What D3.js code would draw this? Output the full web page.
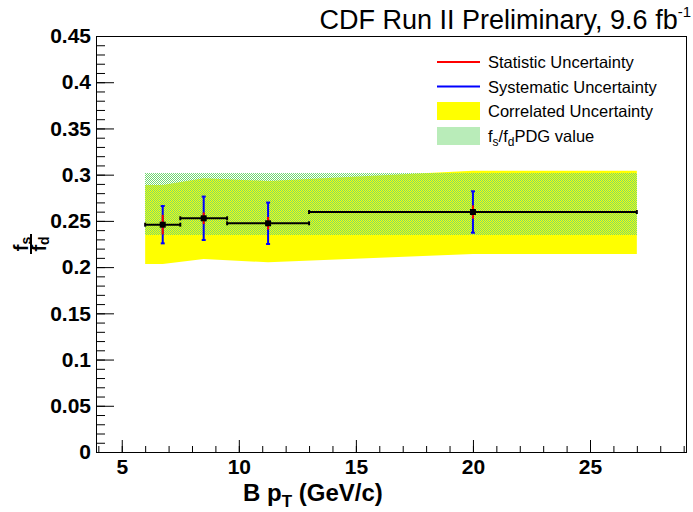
<!DOCTYPE html>
<html>
<head>
<meta charset="utf-8">
<script src="https://cdn.jsdelivr.net/npm/d3@7"></script>
<style>
  body { margin: 0; background: #fff; }
  text { font-family: 'Liberation Sans', Arial, sans-serif; }
</style>
</head>
<body>
<div class="chart"></div>
<script>
// pT bins
const binLow = [6, 7.5, 9.5, 13]
const binHigh = [7.5, 9.5, 13, 27]
const binCenter = [6.75, 8.5, 11.25, 20]
// fs/fd measurement
const fsfd = [0.2459, 0.2528, 0.2474, 0.2596]
const statErr = [0.0106, 0.0063, 0.0068, 0.0072]
const systErr = [0.0202, 0.0235, 0.0224, 0.0224]
// correlated uncertainty band
const corrX = [6, 6.75, 8.5, 11.25, 20, 27]
const corrLow = [0.2034, 0.2034, 0.2088, 0.2052, 0.2142, 0.2142]
const corrHigh = [0.2888, 0.2888, 0.2961, 0.2932, 0.3043, 0.3043]
// PDG value
const pdgX = [6, 27]
const pdgValue = 0.2683
const pdgErr = 0.0332
// axes
const xRange = [3.9, 29.1]
const yRange = [0, 0.45]
const xTicks = [5, 10, 15, 20, 25]
const xMinorTicks = d3.range(4, 30, 1)
const yTicks = [0, 0.05, 0.1, 0.15, 0.2, 0.25, 0.3, 0.35, 0.4, 0.45]
const yTickLabels = ['0', '0.05', '0.1', '0.15', '0.2', '0.25', '0.3', '0.35', '0.4', '0.45']
const yMinorTicks = d3.range(0, 0.4501, 0.01)

function drawChart (container) {
  const fullWidth = 693
  const fullHeight = 512
  const margin = { top: 36, right: 7, bottom: 60, left: 96 }
  const width = fullWidth - margin.left - margin.right
  const height = fullHeight - margin.top - margin.bottom

  const x = d3.scaleLinear().domain(xRange).range([0, width])
  const y = d3.scaleLinear().domain(yRange).range([height, 0])

  const svg = d3.select(container)
    .append('svg')
      .attr('width', fullWidth)
      .attr('height', fullHeight)

  const defs = svg.append('defs')
  const pat = defs.append('pattern')
    .attr('id', 'pdgHatch')
    .attr('width', 2).attr('height', 2)
    .attr('patternUnits', 'userSpaceOnUse')
  pat.append('rect').attr('x', 0).attr('y', 0).attr('width', 1).attr('height', 1).attr('fill', '#72d872')
  pat.append('rect').attr('x', 1).attr('y', 1).attr('width', 1).attr('height', 1).attr('fill', '#72d872')

  const g = svg.append('g')
    .attr('transform', `translate(${margin.left}, ${margin.top})`)

  // correlated band
  const corr = corrX.map((v, i) => ({ x: v, lo: corrLow[i], hi: corrHigh[i] }))
  g.append('path')
    .datum(corr)
    .attr('fill', '#ffff00')
    .attr('d', d3.area().x(d => x(d.x)).y0(d => y(d.lo)).y1(d => y(d.hi)))

  // pdg band
  g.append('rect')
    .attr('x', x(pdgX[0]))
    .attr('width', x(pdgX[1]) - x(pdgX[0]))
    .attr('y', y(pdgValue + pdgErr))
    .attr('height', y(pdgValue - pdgErr) - y(pdgValue + pdgErr))
    .attr('fill', 'url(#pdgHatch)')
    .attr('shape-rendering', 'crispEdges')

  const pts = fsfd.map((v, i) => ({
    lo: binLow[i], hi: binHigh[i], c: binCenter[i], v, stat: statErr[i], syst: systErr[i]
  }))

  // x error bars
  g.selectAll('.xbar').data(pts).enter().append('line')
    .attr('class', 'xbar')
    .attr('x1', d => x(d.lo)).attr('x2', d => x(d.hi))
    .attr('y1', d => y(d.v)).attr('y2', d => y(d.v))
    .attr('stroke', '#000').attr('stroke-width', 2)
  g.selectAll('.xcap').data(pts.flatMap(d => [{ x: d.lo, v: d.v }, { x: d.hi, v: d.v }])).enter().append('line')
    .attr('class', 'xcap')
    .attr('x1', d => x(d.x)).attr('x2', d => x(d.x))
    .attr('y1', d => y(d.v) - 2).attr('y2', d => y(d.v) + 2)
    .attr('stroke', '#000').attr('stroke-width', 2)

  // systematic
  g.selectAll('.syst').data(pts).enter().append('line')
    .attr('class', 'syst')
    .attr('x1', d => x(d.c)).attr('x2', d => x(d.c))
    .attr('y1', d => y(d.v - d.syst)).attr('y2', d => y(d.v + d.syst))
    .attr('stroke', '#0000ff').attr('stroke-width', 2)
  g.selectAll('.scap').data(pts.flatMap(d => [{ c: d.c, v: d.v - d.syst }, { c: d.c, v: d.v + d.syst }])).enter().append('line')
    .attr('class', 'scap')
    .attr('x1', d => x(d.c) - 2).attr('x2', d => x(d.c) + 2)
    .attr('y1', d => y(d.v)).attr('y2', d => y(d.v))
    .attr('stroke', '#0000ff').attr('stroke-width', 2)

  // statistic
  g.selectAll('.stat').data(pts).enter().append('line')
    .attr('class', 'stat')
    .attr('x1', d => x(d.c)).attr('x2', d => x(d.c))
    .attr('y1', d => y(d.v - d.stat)).attr('y2', d => y(d.v + d.stat))
    .attr('stroke', '#ff0000').attr('stroke-width', 2)

  // markers
  g.selectAll('.mk').data(pts).enter().append('rect')
    .attr('class', 'mk')
    .attr('x', d => x(d.c) - 3).attr('y', d => y(d.v) - 3)
    .attr('width', 6).attr('height', 6)
    .attr('fill', '#000')

  // axes
  const xMinor = g.append('g')
    .attr('transform', `translate(0, ${height})`)
    .call(d3.axisBottom(x).tickValues(xMinorTicks).tickSize(-6).tickSizeOuter(0).tickFormat(''))
  xMinor.select('.domain').remove()
  const xAxis = g.append('g')
    .attr('transform', `translate(0, ${height})`)
    .call(d3.axisBottom(x).tickValues(xTicks).tickSize(-12).tickSizeOuter(0).tickPadding(7).tickFormat(d3.format('d')))
  xAxis.selectAll('text')
    .attr('font-size', 21).attr('font-weight', 'bold').attr('fill', '#000')
    .attr('font-family', 'Liberation Sans, Arial, sans-serif')

  const yMinor = g.append('g')
    .call(d3.axisLeft(y).tickValues(yMinorTicks).tickSize(-9).tickSizeOuter(0).tickFormat(''))
  yMinor.select('.domain').remove()
  const yAxis = g.append('g')
    .call(d3.axisLeft(y).tickValues(yTicks).tickSize(-18).tickSizeOuter(0).tickPadding(5)
      .tickFormat((d, i) => yTickLabels[i]))
  yAxis.selectAll('text')
    .attr('font-size', 21).attr('font-weight', 'bold').attr('fill', '#000')
    .attr('font-family', 'Liberation Sans, Arial, sans-serif')

  // frame
  g.append('rect')
    .attr('width', width).attr('height', height)
    .attr('fill', 'none').attr('stroke', '#000').attr('stroke-width', 1)
    .attr('shape-rendering', 'crispEdges')

  // x title
  const xt = svg.append('text')
    .attr('x', 243).attr('y', 501)
    .attr('font-size', 24).attr('font-weight', 'bold')
  xt.append('tspan').text('B p')
  xt.append('tspan').attr('font-size', 17).attr('dy', 6).text('T')
  xt.append('tspan').attr('dy', -6).text(' (GeV/c)')

  // y title as fraction
  const yt = svg.append('g')
    .attr('transform', 'translate(31, 244) rotate(-90)')
    .attr('font-weight', 'bold')
  const num = yt.append('text').attr('text-anchor', 'middle').attr('y', -3).attr('font-size', 20)
  num.append('tspan').text('f')
  num.append('tspan').attr('font-size', 14).attr('dy', 3).text('s')
  yt.append('line').attr('x1', -10).attr('x2', 10).attr('y1', 0).attr('y2', 0)
    .attr('stroke', '#000').attr('stroke-width', 2)
  const den = yt.append('text').attr('text-anchor', 'middle').attr('y', 15).attr('font-size', 20)
  den.append('tspan').text('f')
  den.append('tspan').attr('font-size', 14).attr('dy', 3).text('d')

  // title
  const tt = svg.append('text')
    .attr('x', 691).attr('y', 29)
    .attr('text-anchor', 'end')
    .attr('font-size', 27)
  tt.append('tspan').text('CDF Run II Preliminary, 9.6 fb')
  tt.append('tspan').attr('font-size', 15).attr('dy', -12).text('-1')

  // legend
  const leg = svg.append('g').attr('transform', 'translate(437, 62)')
  const entries = [
    { label: 'Statistic Uncertainty', kind: 'line', color: '#ff0000' },
    { label: 'Systematic Uncertainty', kind: 'line', color: '#0000ff' },
    { label: 'Correlated Uncertainty', kind: 'fill', color: '#ffff00' },
    { label: 'PDG', kind: 'hatch', color: 'url(#pdgHatch)' }
  ]
  entries.forEach((e, i) => {
    const row = leg.append('g').attr('transform', `translate(0, ${i * 24.5})`)
    if (e.kind === 'line') {
      row.append('line').attr('x1', 0).attr('x2', 43).attr('y1', 0).attr('y2', 0)
        .attr('stroke', e.color).attr('stroke-width', 2)
    } else {
      row.append('rect').attr('x', 0).attr('y', -9).attr('width', 43).attr('height', 18)
        .attr('fill', e.color).attr('shape-rendering', 'crispEdges')
    }
    const t = row.append('text').attr('x', 51).attr('y', 6).attr('font-size', 16.5)
    if (e.kind === 'hatch') {
      t.append('tspan').text('f')
      t.append('tspan').attr('font-size', 12).attr('dy', 4).text('s')
      t.append('tspan').attr('dy', -4).text('/f')
      t.append('tspan').attr('font-size', 12).attr('dy', 4).text('d')
      t.append('tspan').attr('dy', -4).text('PDG value')
    } else {
      t.text(e.label)
    }
  })

  return svg
}

drawChart('.chart')
</script>
</body>
</html>
